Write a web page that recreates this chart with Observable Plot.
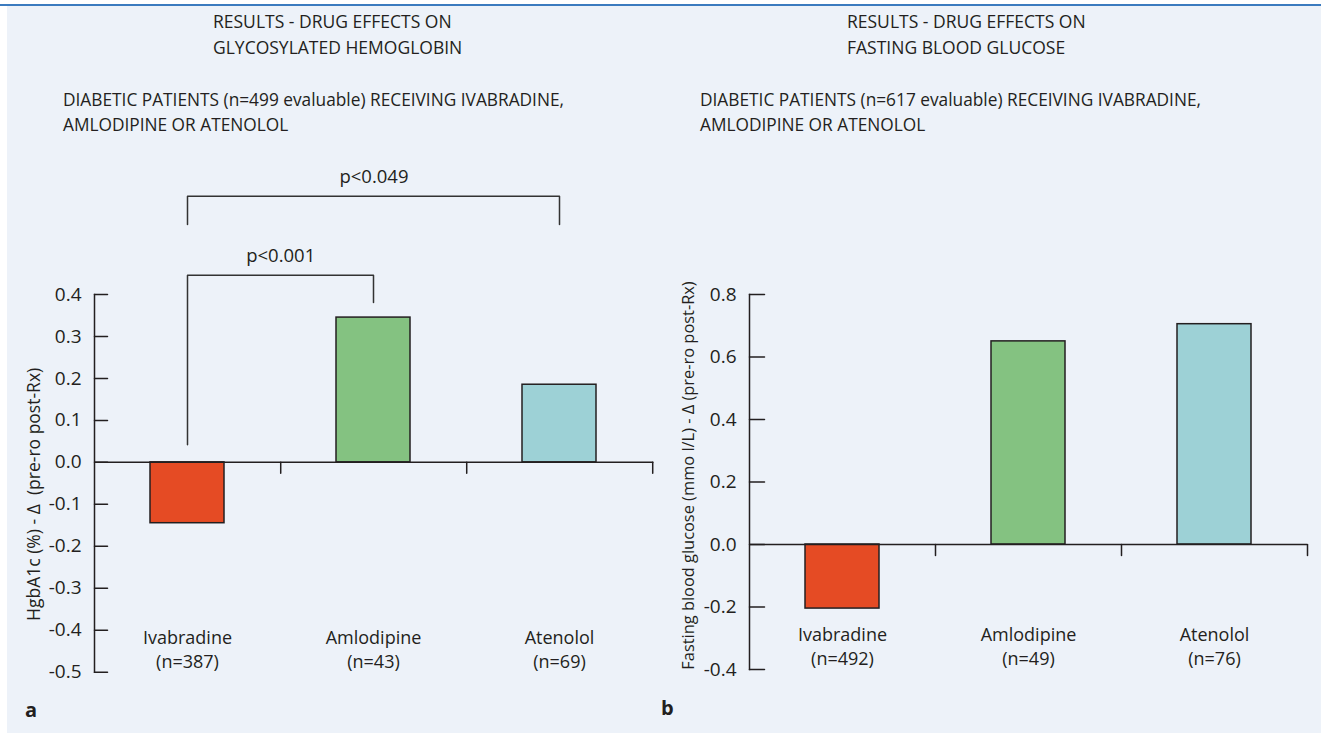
<!DOCTYPE html>
<html><head><meta charset="utf-8">
<script src="https://cdn.jsdelivr.net/npm/d3@7"></script>
<script src="https://cdn.jsdelivr.net/npm/@observablehq/plot@0.6"></script>
<style>
body{margin:0;background:#fff;}
#page{position:relative;width:1321px;height:733px;overflow:hidden;font-family:"Open Sans",sans-serif;color:#231f20;}
#topline{position:absolute;left:0;top:4px;width:1321px;height:2px;background:#3b7bbf;}
#bg{position:absolute;left:7px;top:6px;right:0;bottom:0;background:#edf2f9;}
.t{position:absolute;font-size:17.5px;line-height:25px;white-space:nowrap;}
.s{font-size:17.3px;}
.panel{position:absolute;top:0;}
.letter{position:absolute;font-weight:bold;font-size:20px;line-height:20px;}
</style></head>
<body><div id="page">
<div id="topline"></div><div id="bg"></div>
<div class="panel" id="pa" style="left:0"></div>
<div class="panel" id="pb" style="left:660px"></div>
<div class="t" style="left:213px;top:8px;line-height:26px">RESULTS - DRUG EFFECTS ON<br>GLYCOSYLATED HEMOGLOBIN</div>
<div class="t" style="left:847px;top:8px;line-height:26px">RESULTS - DRUG EFFECTS ON<br>FASTING BLOOD GLUCOSE</div>
<div class="t s" style="left:63px;top:86.5px">DIABETIC PATIENTS (n=499 evaluable) RECEIVING IVABRADINE,<br>AMLODIPINE OR ATENOLOL</div>
<div class="t s" style="left:700px;top:86.5px">DIABETIC PATIENTS (n=617 evaluable) RECEIVING IVABRADINE,<br>AMLODIPINE OR ATENOLOL</div>
<div class="letter" style="left:25px;top:700px">a</div>
<div class="letter" style="left:661px;top:698px">b</div>
</div>
<script>
const drugs = ["Ivabradine", "Amlodipine", "Atenolol"];
const nA = [387, 43, 69];
const nB = [492, 49, 76];
const hba1cChange = [-0.145, 0.345, 0.185];
const glucoseChange = [-0.205, 0.65, 0.705];
const barColors = ["#e54b24", "#84c281", "#9dd1d6"];
const ticksA = [-0.5, -0.4, -0.3, -0.2, -0.1, 0.0, 0.1, 0.2, 0.3, 0.4];
const ticksB = [-0.4, -0.2, 0.0, 0.2, 0.4, 0.6, 0.8];
const yLabelA = "HgbA1c (%) - \u0394\u00a0 (pre-ro post-Rx)";
const yLabelB = "Fasting blood glucose (mmo l/L) - \u0394 (pre-ro post-Rx)";
const bracketLabels = ["p<0.001", "p<0.049"];
const bracketFrom = ["Ivabradine", "Ivabradine"];
const bracketTo = ["Amlodipine", "Atenolol"];
const bracketTop = [0.446, 0.634];
const bracketFromEnd = [0.042, 0.567];
const bracketToEnd = [0.381, 0.567];

const ink = "#231f20";
const lineShape = {draw(ctx, l) { ctx.moveTo(0, 0); ctx.lineTo(0, -l); }};

function panel({values, ns, ticks, domain, yLabel, labelSize, width, mL, mR, mT, mB, yTick, labelDx, labelDy, brackets}) {
  const height = 733;
  const step = (width - mL - mR) / drugs.length;
  const data = drugs.map((d, i) => ({drug: d, value: values[i], n: ns[i]}));
  const marks = [
    Plot.barY(data, {x: "drug", y: "value", fill: "drug", stroke: ink, strokeWidth: 1.5}),
    Plot.ruleY([0], {stroke: ink, strokeWidth: 1.5}),
    Plot.frame({anchor: "left", stroke: ink, strokeWidth: 1.5}),
    Plot.vector(ticks, {y: d => d, frameAnchor: "left", length: yTick, rotate: 90, anchor: "start", shape: lineShape, stroke: ink, strokeWidth: 1.5}),
    Plot.vector(drugs, {x: d => d, y: () => 0, dx: step / 2, length: 11, rotate: 180, anchor: "start", shape: lineShape, stroke: ink, strokeWidth: 1.5}),
    Plot.axisY({ticks, tickSize: 0, tickPadding: 13, tickFormat: d => d.toFixed(1), label: null, fontSize: 19, fill: ink}),
    Plot.text(data, {x: "drug", text: d => `${d.drug}\n(n=${d.n})`, frameAnchor: "bottom", dy: -24, lineAnchor: "middle", lineHeight: 1.35, fontSize: 18, fill: ink}),
    Plot.text([yLabel], {frameAnchor: "left", textAnchor: "middle", rotate: -90, dx: labelDx, dy: labelDy, fontSize: labelSize, fill: ink})
  ];
  if (brackets) {
    brackets.labels.forEach((lab, k) => {
      const pts = [
        {x: brackets.from[k], y: brackets.fromEnd[k]},
        {x: brackets.from[k], y: brackets.top[k]},
        {x: brackets.to[k], y: brackets.top[k]},
        {x: brackets.to[k], y: brackets.toEnd[k]}
      ];
      marks.push(Plot.line(pts, {x: "x", y: "y", stroke: "#333", strokeWidth: 1.5}));
      const span = drugs.indexOf(brackets.to[k]) - drugs.indexOf(brackets.from[k]);
      marks.push(Plot.text([lab], {x: () => brackets.from[k], y: () => brackets.top[k], dx: span * step / 2, dy: -19, lineAnchor: "middle", fontSize: 18.5, fill: ink}));
    });
  }
  return Plot.plot({
    width, height,
    marginLeft: mL, marginRight: mR, marginTop: mT, marginBottom: mB,
    style: {background: "transparent", fontFamily: "'Open Sans', sans-serif", fontSize: "17px", color: ink, overflow: "visible"},
    x: {domain: drugs, paddingInner: 0.6, paddingOuter: 0.3, axis: null},
    y: {domain, axis: null},
    color: {domain: drugs, range: barColors},
    marks
  });
}

document.getElementById("pa").appendChild(panel({
  values: hba1cChange, ns: nA, ticks: ticksA, domain: [-0.5, 0.4], yLabel: yLabelA, labelSize: 17.5,
  width: 660, mL: 94, mR: 6.7, mT: 294, mB: 61.3, yTick: 13, labelDx: -60, labelDy: 11,
  brackets: {labels: bracketLabels, from: bracketFrom, to: bracketTo, top: bracketTop, fromEnd: bracketFromEnd, toEnd: bracketToEnd}
}));
document.getElementById("pb").appendChild(panel({
  values: glucoseChange, ns: nB, ticks: ticksB, domain: [-0.4, 0.8], yLabel: yLabelB, labelSize: 16.4,
  width: 661, mL: 89, mR: 14, mT: 294, mB: 64, yTick: 15, labelDx: -61, labelDy: -6.5
}));
</script>
</body></html>
